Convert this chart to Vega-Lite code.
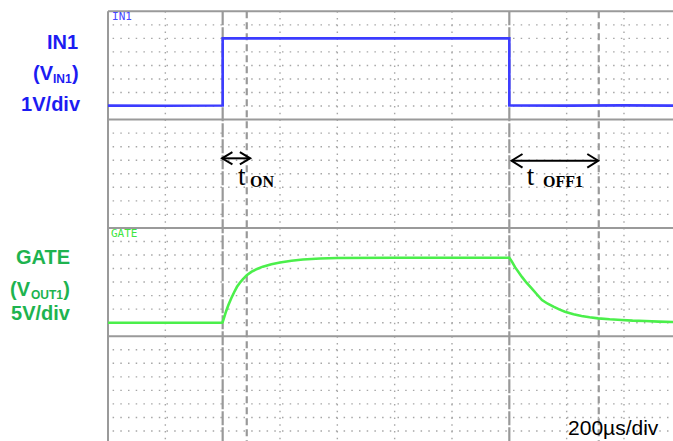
{
  "$schema": "https://vega.github.io/schema/vega-lite/v6.json",
  "width": 673,
  "height": 441,
  "padding": 0,
  "autosize": {"type": "none"},
  "background": "white",
  "config": {"view": {"stroke": null}},
  "datasets": {
    "hgrid": [{"y":1},{"y":2},{"y":3},{"y":4},{"y":5},{"y":6},{"y":7},{"y":9},{"y":10},{"y":11},{"y":12},{"y":13},{"y":14},{"y":15},{"y":17},{"y":18},{"y":19},{"y":20},{"y":21},{"y":22},{"y":23},{"y":25},{"y":26},{"y":27},{"y":28},{"y":29},{"y":30},{"y":31}],
    "vgrid": [{"x":1},{"x":3},{"x":4},{"x":5},{"x":6},{"x":8},{"x":9}],
    "hsolid": [{"y":0},{"y":8},{"y":16},{"y":24}],
    "vsolid": [{"x":0}],
    "cursorA": [{"x":2},{"x":7}],
    "cursorB": [{"x":2.42},{"x":8.56}],
    "blue": [
      {"i":0,"x":0,"y":6.97},{"i":1,"x":1.0,"y":6.98},{"i":2,"x":1.99,"y":6.96},{"i":3,"x":2.0,"y":6.96},
      {"i":4,"x":2.0,"y":2.0},{"i":5,"x":4.5,"y":2.0},{"i":6,"x":7.0,"y":2.0},{"i":7,"x":7.0,"y":6.95},
      {"i":8,"x":8.0,"y":6.97},{"i":9,"x":9.0,"y":6.95},{"i":10,"x":9.855,"y":6.97}
    ],
    "green": [
      {"i":0,"x":0,"y":23.0},{"i":1,"x":1,"y":23.0},{"i":2,"x":1.99,"y":23.0},{"i":3,"x":2.0,"y":22.95},
      {"i":4,"x":2.03,"y":22.55},{"i":5,"x":2.06,"y":22.15},{"i":6,"x":2.10,"y":21.7},{"i":7,"x":2.15,"y":21.2},
      {"i":8,"x":2.20,"y":20.75},{"i":9,"x":2.25,"y":20.35},{"i":10,"x":2.30,"y":20.05},{"i":11,"x":2.35,"y":19.8},
      {"i":12,"x":2.42,"y":19.5},{"i":13,"x":2.50,"y":19.25},{"i":14,"x":2.60,"y":19.03},{"i":15,"x":2.70,"y":18.86},
      {"i":16,"x":2.85,"y":18.68},{"i":17,"x":3.00,"y":18.55},{"i":18,"x":3.20,"y":18.42},{"i":19,"x":3.40,"y":18.33},
      {"i":20,"x":3.70,"y":18.26},{"i":21,"x":4.00,"y":18.22},{"i":22,"x":5.0,"y":18.2},{"i":23,"x":6.0,"y":18.2},
      {"i":24,"x":7.0,"y":18.2},{"i":25,"x":7.04,"y":18.45},{"i":26,"x":7.10,"y":18.9},{"i":27,"x":7.22,"y":19.62},
      {"i":28,"x":7.30,"y":20.05},{"i":29,"x":7.39,"y":20.46},{"i":30,"x":7.48,"y":20.9},{"i":31,"x":7.57,"y":21.33},
      {"i":32,"x":7.67,"y":21.6},{"i":33,"x":7.77,"y":21.82},{"i":34,"x":7.87,"y":22.02},{"i":35,"x":7.97,"y":22.19},
      {"i":36,"x":8.12,"y":22.37},{"i":37,"x":8.26,"y":22.51},{"i":38,"x":8.40,"y":22.6},{"i":39,"x":8.55,"y":22.68},
      {"i":40,"x":8.75,"y":22.75},{"i":41,"x":8.96,"y":22.8},{"i":42,"x":9.15,"y":22.85},{"i":43,"x":9.37,"y":22.88},
      {"i":44,"x":9.6,"y":22.92},{"i":45,"x":9.855,"y":22.95}
    ],
    "arrows": [
      {"id":"on_s","i":0,"x":1.99,"y":10.86},{"id":"on_s","i":1,"x":2.48,"y":10.86},
      {"id":"on_l","i":0,"x":2.17,"y":10.41},{"id":"on_l","i":1,"x":1.99,"y":10.86},{"id":"on_l","i":2,"x":2.17,"y":11.31},
      {"id":"on_r","i":0,"x":2.30,"y":10.41},{"id":"on_r","i":1,"x":2.48,"y":10.86},{"id":"on_r","i":2,"x":2.30,"y":11.31},
      {"id":"off_s","i":0,"x":7.04,"y":11.04},{"id":"off_s","i":1,"x":8.55,"y":11.04},
      {"id":"off_l","i":0,"x":7.23,"y":10.54},{"id":"off_l","i":1,"x":7.04,"y":11.04},{"id":"off_l","i":2,"x":7.23,"y":11.54},
      {"id":"off_r","i":0,"x":8.36,"y":10.54},{"id":"off_r","i":1,"x":8.55,"y":11.04},{"id":"off_r","i":2,"x":8.36,"y":11.54}
    ],
    "labels": [
      {"g":"big","s":"IN1","text":"IN1","x":-0.523,"y":2.785},
      {"g":"big","s":"IN1","text":"(V","x":-0.959,"y":5.075},
      {"g":"big","s":"IN1","text":"1V/div","x":-0.488,"y":7.40},
      {"g":"big","s":"GATE","text":"GATE","x":-0.663,"y":18.67},
      {"g":"big","s":"GATE","text":"(V","x":-1.36,"y":21.03},
      {"g":"big","s":"GATE","text":"5V/div","x":-0.663,"y":22.8},
      {"g":"paren","s":"IN1","text":")","x":-0.628,"y":5.075},
      {"g":"paren","s":"GATE","text":")","x":-0.78,"y":21.03},
      {"g":"sub","s":"IN1","text":"IN1","x":-0.959,"y":5.30},
      {"g":"sub","s":"GATE","text":"OUT1","x":-1.343,"y":21.25},
      {"g":"tag","s":"IN1","text":"IN1","x":0.07,"y":0.64},
      {"g":"tag","s":"GATE","text":"GATE","x":0.052,"y":16.67},
      {"g":"t","s":"none","text":"t","x":2.268,"y":12.83},
      {"g":"t","s":"none","text":"t","x":7.303,"y":12.83},
      {"g":"tsub","s":"none","text":"ON","x":2.477,"y":12.98},
      {"g":"tsub","s":"none","text":"OFF1","x":7.588,"y":13.0},
      {"g":"scale","s":"none","text":"200µs/div","x":8.024,"y":31.3}
    ]
  },
  "layer": [
    {
      "data": {"name": "hgrid"},
      "mark": {"type": "rule", "stroke": "#a6a6a6", "strokeWidth": 1.4, "strokeDash": [1.5, 6.2]},
      "encoding": {
        "x": {"datum": 0.08, "type": "quantitative", "scale": {"domain": [-1.884, 9.855], "nice": false, "zero": false}, "axis": null},
        "x2": {"datum": 9.855},
        "y": {"field": "y", "type": "quantitative", "scale": {"domain": [-0.835, 31.74], "nice": false, "zero": false, "reverse": true}, "axis": null}
      }
    },
    {
      "data": {"name": "vgrid"},
      "mark": {"type": "rule", "stroke": "#a6a6a6", "strokeWidth": 1.4, "strokeDash": [1.5, 5.27]},
      "encoding": {
        "x": {"field": "x", "type": "quantitative", "scale": {"domain": [-1.884, 9.855], "nice": false, "zero": false}, "axis": null},
        "y": {"datum": 0, "type": "quantitative", "scale": {"domain": [-0.835, 31.74], "nice": false, "zero": false, "reverse": true}, "axis": null},
        "y2": {"datum": 31.74}
      }
    },
    {
      "data": {"name": "hsolid"},
      "mark": {"type": "rule", "stroke": "#9a9a9a", "strokeWidth": 2},
      "encoding": {
        "x": {"datum": 0, "type": "quantitative", "scale": {"domain": [-1.884, 9.855], "nice": false, "zero": false}, "axis": null},
        "x2": {"datum": 9.855},
        "y": {"field": "y", "type": "quantitative", "scale": {"domain": [-0.835, 31.74], "nice": false, "zero": false, "reverse": true}, "axis": null}
      }
    },
    {
      "data": {"name": "vsolid"},
      "mark": {"type": "rule", "stroke": "#9a9a9a", "strokeWidth": 2},
      "encoding": {
        "x": {"field": "x", "type": "quantitative", "scale": {"domain": [-1.884, 9.855], "nice": false, "zero": false}, "axis": null},
        "y": {"datum": 0, "type": "quantitative", "scale": {"domain": [-0.835, 31.74], "nice": false, "zero": false, "reverse": true}, "axis": null},
        "y2": {"datum": 31.74}
      }
    },
    {
      "data": {"name": "cursorA"},
      "mark": {"type": "rule", "stroke": "#999999", "strokeWidth": 2.2, "strokeDash": [14, 2]},
      "encoding": {
        "x": {"field": "x", "type": "quantitative", "scale": {"domain": [-1.884, 9.855], "nice": false, "zero": false}, "axis": null},
        "y": {"datum": 0, "type": "quantitative", "scale": {"domain": [-0.835, 31.74], "nice": false, "zero": false, "reverse": true}, "axis": null},
        "y2": {"datum": 31.74}
      }
    },
    {
      "data": {"name": "cursorB"},
      "mark": {"type": "rule", "stroke": "#999999", "strokeWidth": 2.2, "strokeDash": [7, 4]},
      "encoding": {
        "x": {"field": "x", "type": "quantitative", "scale": {"domain": [-1.884, 9.855], "nice": false, "zero": false}, "axis": null},
        "y": {"datum": 0, "type": "quantitative", "scale": {"domain": [-0.835, 31.74], "nice": false, "zero": false, "reverse": true}, "axis": null},
        "y2": {"datum": 31.74}
      }
    },
    {
      "data": {"name": "blue"},
      "mark": {"type": "line", "stroke": "#3c3cff", "strokeWidth": 2.6},
      "encoding": {
        "x": {"field": "x", "type": "quantitative", "scale": {"domain": [-1.884, 9.855], "nice": false, "zero": false}, "axis": null},
        "y": {"field": "y", "type": "quantitative", "scale": {"domain": [-0.835, 31.74], "nice": false, "zero": false, "reverse": true}, "axis": null},
        "order": {"field": "i", "type": "quantitative"}
      }
    },
    {
      "data": {"name": "green"},
      "mark": {"type": "line", "stroke": "#4bef4b", "strokeWidth": 2.6},
      "encoding": {
        "x": {"field": "x", "type": "quantitative", "scale": {"domain": [-1.884, 9.855], "nice": false, "zero": false}, "axis": null},
        "y": {"field": "y", "type": "quantitative", "scale": {"domain": [-0.835, 31.74], "nice": false, "zero": false, "reverse": true}, "axis": null},
        "order": {"field": "i", "type": "quantitative"}
      }
    },
    {
      "data": {"name": "arrows"},
      "mark": {"type": "line", "stroke": "#000000", "strokeWidth": 2, "strokeJoin": "miter"},
      "encoding": {
        "x": {"field": "x", "type": "quantitative", "scale": {"domain": [-1.884, 9.855], "nice": false, "zero": false}, "axis": null},
        "y": {"field": "y", "type": "quantitative", "scale": {"domain": [-0.835, 31.74], "nice": false, "zero": false, "reverse": true}, "axis": null},
        "detail": {"field": "id", "type": "nominal"},
        "order": {"field": "i", "type": "quantitative"}
      }
    },
    {
      "data": {"name": "labels"},
      "transform": [{"filter": "datum.g === 'big' && datum.s === 'IN1'"}],
      "mark": {"type": "text", "font": "Liberation Sans", "fontWeight": "bold", "fontSize": 20, "align": "right", "baseline": "alphabetic", "fill": "#1c1cf2"},
      "encoding": {
        "x": {"field": "x", "type": "quantitative", "scale": {"domain": [-1.884, 9.855], "nice": false, "zero": false}, "axis": null},
        "y": {"field": "y", "type": "quantitative", "scale": {"domain": [-0.835, 31.74], "nice": false, "zero": false, "reverse": true}, "axis": null},
        "text": {"field": "text"}
      }
    },
    {
      "data": {"name": "labels"},
      "transform": [{"filter": "datum.g === 'paren' && datum.s === 'IN1'"}],
      "mark": {"type": "text", "font": "Liberation Sans", "fontWeight": "bold", "fontSize": 20, "align": "left", "baseline": "alphabetic", "fill": "#1c1cf2"},
      "encoding": {
        "x": {"field": "x", "type": "quantitative", "scale": {"domain": [-1.884, 9.855], "nice": false, "zero": false}, "axis": null},
        "y": {"field": "y", "type": "quantitative", "scale": {"domain": [-0.835, 31.74], "nice": false, "zero": false, "reverse": true}, "axis": null},
        "text": {"field": "text"}
      }
    },
    {
      "data": {"name": "labels"},
      "transform": [{"filter": "datum.g === 'sub' && datum.s === 'IN1'"}],
      "mark": {"type": "text", "font": "Liberation Sans", "fontWeight": "bold", "fontSize": 12, "align": "left", "baseline": "alphabetic", "fill": "#1c1cf2"},
      "encoding": {
        "x": {"field": "x", "type": "quantitative", "scale": {"domain": [-1.884, 9.855], "nice": false, "zero": false}, "axis": null},
        "y": {"field": "y", "type": "quantitative", "scale": {"domain": [-0.835, 31.74], "nice": false, "zero": false, "reverse": true}, "axis": null},
        "text": {"field": "text"}
      }
    },
    {
      "data": {"name": "labels"},
      "transform": [{"filter": "datum.g === 'big' && datum.s === 'GATE'"}],
      "mark": {"type": "text", "font": "Liberation Sans", "fontWeight": "bold", "fontSize": 20, "align": "right", "baseline": "alphabetic", "fill": "#1eb34f"},
      "encoding": {
        "x": {"field": "x", "type": "quantitative", "scale": {"domain": [-1.884, 9.855], "nice": false, "zero": false}, "axis": null},
        "y": {"field": "y", "type": "quantitative", "scale": {"domain": [-0.835, 31.74], "nice": false, "zero": false, "reverse": true}, "axis": null},
        "text": {"field": "text"}
      }
    },
    {
      "data": {"name": "labels"},
      "transform": [{"filter": "datum.g === 'paren' && datum.s === 'GATE'"}],
      "mark": {"type": "text", "font": "Liberation Sans", "fontWeight": "bold", "fontSize": 20, "align": "left", "baseline": "alphabetic", "fill": "#1eb34f"},
      "encoding": {
        "x": {"field": "x", "type": "quantitative", "scale": {"domain": [-1.884, 9.855], "nice": false, "zero": false}, "axis": null},
        "y": {"field": "y", "type": "quantitative", "scale": {"domain": [-0.835, 31.74], "nice": false, "zero": false, "reverse": true}, "axis": null},
        "text": {"field": "text"}
      }
    },
    {
      "data": {"name": "labels"},
      "transform": [{"filter": "datum.g === 'sub' && datum.s === 'GATE'"}],
      "mark": {"type": "text", "font": "Liberation Sans", "fontWeight": "bold", "fontSize": 12, "align": "left", "baseline": "alphabetic", "fill": "#1eb34f"},
      "encoding": {
        "x": {"field": "x", "type": "quantitative", "scale": {"domain": [-1.884, 9.855], "nice": false, "zero": false}, "axis": null},
        "y": {"field": "y", "type": "quantitative", "scale": {"domain": [-0.835, 31.74], "nice": false, "zero": false, "reverse": true}, "axis": null},
        "text": {"field": "text"}
      }
    },
    {
      "data": {"name": "labels"},
      "transform": [{"filter": "datum.g === 'tag' && datum.s === 'IN1'"}],
      "mark": {"type": "text", "font": "DejaVu Sans Mono", "fontSize": 11, "align": "left", "baseline": "alphabetic", "fill": "#4646ff"},
      "encoding": {
        "x": {"field": "x", "type": "quantitative", "scale": {"domain": [-1.884, 9.855], "nice": false, "zero": false}, "axis": null},
        "y": {"field": "y", "type": "quantitative", "scale": {"domain": [-0.835, 31.74], "nice": false, "zero": false, "reverse": true}, "axis": null},
        "text": {"field": "text"}
      }
    },
    {
      "data": {"name": "labels"},
      "transform": [{"filter": "datum.g === 'tag' && datum.s === 'GATE'"}],
      "mark": {"type": "text", "font": "DejaVu Sans Mono", "fontSize": 11, "align": "left", "baseline": "alphabetic", "fill": "#3fe63f"},
      "encoding": {
        "x": {"field": "x", "type": "quantitative", "scale": {"domain": [-1.884, 9.855], "nice": false, "zero": false}, "axis": null},
        "y": {"field": "y", "type": "quantitative", "scale": {"domain": [-0.835, 31.74], "nice": false, "zero": false, "reverse": true}, "axis": null},
        "text": {"field": "text"}
      }
    },
    {
      "data": {"name": "labels"},
      "transform": [{"filter": "datum.g === 't'"}],
      "mark": {"type": "text", "font": "Liberation Serif", "fontSize": 27, "align": "left", "baseline": "alphabetic", "fill": "#000000"},
      "encoding": {
        "x": {"field": "x", "type": "quantitative", "scale": {"domain": [-1.884, 9.855], "nice": false, "zero": false}, "axis": null},
        "y": {"field": "y", "type": "quantitative", "scale": {"domain": [-0.835, 31.74], "nice": false, "zero": false, "reverse": true}, "axis": null},
        "text": {"field": "text"}
      }
    },
    {
      "data": {"name": "labels"},
      "transform": [{"filter": "datum.g === 'tsub'"}],
      "mark": {"type": "text", "font": "Liberation Serif", "fontWeight": "bold", "fontSize": 16, "align": "left", "baseline": "alphabetic", "fill": "#000000"},
      "encoding": {
        "x": {"field": "x", "type": "quantitative", "scale": {"domain": [-1.884, 9.855], "nice": false, "zero": false}, "axis": null},
        "y": {"field": "y", "type": "quantitative", "scale": {"domain": [-0.835, 31.74], "nice": false, "zero": false, "reverse": true}, "axis": null},
        "text": {"field": "text"}
      }
    },
    {
      "data": {"name": "labels"},
      "transform": [{"filter": "datum.g === 'scale'"}],
      "mark": {"type": "text", "font": "Liberation Sans", "fontSize": 21, "align": "left", "baseline": "alphabetic", "fill": "#000000"},
      "encoding": {
        "x": {"field": "x", "type": "quantitative", "scale": {"domain": [-1.884, 9.855], "nice": false, "zero": false}, "axis": null},
        "y": {"field": "y", "type": "quantitative", "scale": {"domain": [-0.835, 31.74], "nice": false, "zero": false, "reverse": true}, "axis": null},
        "text": {"field": "text"}
      }
    }
  ]
}
